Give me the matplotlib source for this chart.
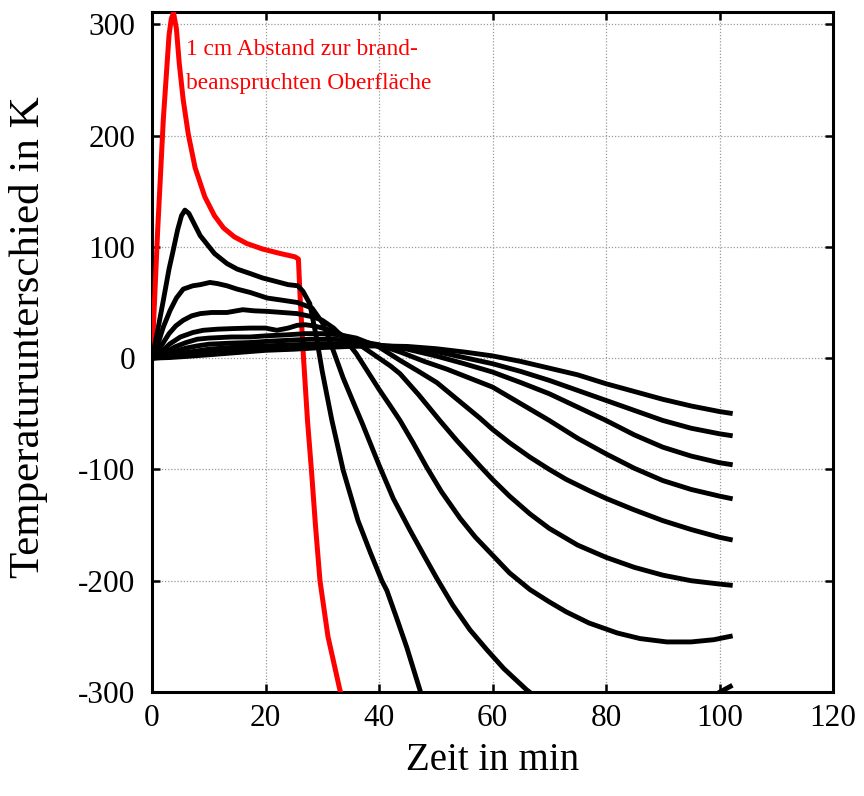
import matplotlib
matplotlib.use("Agg")
import matplotlib.pyplot as plt

plt.rcParams['font.family'] = ['Liberation Serif', 'DejaVu Serif']
plt.rcParams['axes.unicode_minus'] = False

# Red curve: 1 cm from fire-exposed surface
red_x = [0, 1, 2, 3, 3.4, 3.8, 4.3, 4.8, 5.5, 6.4, 7.6, 9.3, 11, 12.6, 14.5, 16.7, 19.5, 22.6,
         25.2, 25.8, 26.1, 26.7, 27.4, 28.1, 28.8, 29.6, 31.0, 33.1, 34.5]
red_y = [0, 115, 215, 290, 305, 310, 296, 265, 232, 201, 171, 145, 128, 117, 109, 103, 98, 94,
         91, 89, 55, 0, -56, -101, -150, -200, -250, -298, -320]

A_x = [0, 1, 2, 3, 3.7, 4.5, 5.2, 5.8, 6.5, 7.5, 8.5, 9.6, 11, 13.2, 15, 17.3, 19.5, 21.4, 24,
       25.7, 26.6, 27.8, 29.0, 30.0, 31.7, 33.7, 36.3, 38.5, 40.5, 41.4, 43.0, 44.9, 47.2, 48.5]
A_y = [0, 25, 52, 80, 96, 115, 128, 133, 130, 120, 110, 103, 94, 85, 80, 76, 72, 69.5, 66,
       65, 60, 49, 18, -12, -56, -101, -146, -175, -200, -209, -232, -260, -298, -320]

B_x = [0, 1, 2, 3.2, 4.3, 5.5, 7.2, 8.5, 10.2, 11.5, 13.2, 15, 17.3, 20.3, 23, 25.6, 28.2, 30,
       31, 32, 33.7, 35.5, 37, 40, 42.5, 45.5, 48, 50.2, 53, 56, 59, 62, 66, 70, 75, 80, 85,
       90, 95, 99, 101.9]
B_y = [0, 12, 28, 43, 54, 62, 65, 66, 68, 67, 65, 62, 59, 54, 52, 50, 45, 32,
       20, 6, -18, -40, -58, -96, -126, -155, -178, -198, -222, -244, -262, -279, -298, -314,
       -326, -331, -330, -323, -313, -303, -295]

C_x = [0, 1.5, 3, 4.2, 5.5, 7, 8.5, 10.5, 13.2, 16, 18, 20.3, 23, 25.6, 28.4, 30, 32, 34, 36,
       38, 40, 42, 43.7, 46, 48.4, 51, 54.3, 57, 60, 63, 66.6, 70, 73, 77, 82, 86, 90.7, 95,
       99, 101.9]
C_y = [0, 10, 22, 29, 34, 38, 40, 41, 41, 43.5, 42.5, 42, 41, 40, 37, 34, 27, 17, 4,
       -12, -28, -43, -56, -76, -98, -120, -144, -161, -177, -193, -208, -219, -228, -238,
       -247, -252, -255, -255, -253, -250]

D_x = [0, 1.5, 3.2, 5, 7.2, 9, 11.5, 14, 17.3, 20, 22, 24, 25.6, 27, 28.5, 30.8, 33, 36, 38,
       40, 42, 43.7, 47, 50.7, 53.7, 57.8, 60, 63, 66.6, 70, 75, 80, 85, 90, 95, 100, 101.9]
D_y = [0, 5, 13, 19, 23, 25, 26, 26.5, 27, 27, 25, 27, 29.5, 30, 29, 26, 22, 14, 7,
       0, -7, -14, -33, -56, -74, -97, -109, -124, -140, -153, -168, -179, -188, -195, -200,
       -203, -204]

E_x = [0, 2, 4, 6, 8, 10, 14, 17.3, 20, 24, 27, 30, 33, 36, 40, 43.7, 47, 50.2, 54, 57.8, 60,
       63, 66.6, 70, 73, 77, 80, 84.8, 90, 95, 100, 101.9]
E_y = [0, 4, 10, 14, 17, 18, 19, 19, 20, 21, 22, 22, 21, 18, 10, -2, -12, -22, -38, -54, -64,
       -76, -89, -100, -109, -119, -126, -136, -146, -154, -161, -163]

F_x = [0, 2, 4, 6, 8, 10, 14, 17.3, 20, 24, 28, 32, 36, 40, 44, 48, 52, 56, 60, 65, 70, 75,
       80, 85, 90, 95, 100, 101.9]
F_y = [0, 2, 6, 9, 11, 12.5, 13.5, 14, 15, 16, 17, 17, 15.5, 12, 5, -3, -10, -18, -26, -41,
       -56, -72, -86, -99, -110, -118, -124, -126]

GHI_x = [0, 3, 6, 10, 15, 20, 25, 30, 35, 40, 45, 50, 55, 60, 65, 70, 75, 80, 85, 90, 95,
         100, 101.9]
G_y = [0, 2, 5, 8, 10, 11, 12, 13, 13, 11.5, 8, 2, -5, -12.5, -22, -32, -44, -56, -69, -80,
       -88, -94, -95.5]
H_y = [0, 1, 3, 5.5, 7.5, 9, 10, 11, 12, 11.5, 9.5, 6, 0.5, -5, -12, -20, -29, -38, -47, -56,
       -63, -68, -69.5]
I_y = [0, 0.5, 1.5, 3, 5, 7, 8, 9.5, 10.5, 11, 10.5, 8.5, 5.5, 2, -3, -9, -15, -23, -30, -37,
       -43, -48, -49.5]

black_series = [(A_x, A_y), (B_x, B_y), (C_x, C_y), (D_x, D_y), (E_x, E_y), (F_x, F_y),
                (GHI_x, G_y), (GHI_x, H_y), (GHI_x, I_y)]

x_ticks = [0, 20, 40, 60, 80, 100, 120]
y_ticks = [-300, -200, -100, 0, 100, 200, 300]
annot_lines = ["1 cm Abstand zur brand-", "beanspruchten Oberfläche"]

fig = plt.figure(figsize=(8.64, 7.96), dpi=100)
ax = fig.add_axes([152/864, 1 - 692/796, (833 - 152)/864, (692 - 12)/796])

ax.plot(red_x, red_y, color='#ff0000', lw=3.6, solid_joinstyle='round', zorder=3)
for xs, ys in black_series:
    ax.plot(xs, ys, color='black', lw=3.5, solid_joinstyle='round', zorder=4)

ax.set_xlim(0, 120)
ax.set_ylim(-300, 311)
ax.set_xticks(x_ticks)
ax.set_yticks(y_ticks)
ax.grid(True, color='#9a9a9a', linestyle=(0, (1, 1.5)), linewidth=0.9)
ax.tick_params(direction='in', top=True, right=True, length=6, width=1.8,
               labelsize=22.5)
ax.tick_params(axis='y', pad=12)
ax.tick_params(axis='x', pad=9)
for s in ax.spines.values():
    s.set_linewidth(2.2)

ax.set_xlabel('Zeit in min', fontsize=28, labelpad=6)
ax.set_ylabel('Temperaturunterschied in K', fontsize=31)
ax.yaxis.set_label_coords(-0.153, 0.522)

ax.text(6.0, 272, annot_lines[0], color='#ff0000', fontsize=16.8, va='baseline', ha='left')
ax.text(6.0, 242, annot_lines[1], color='#ff0000', fontsize=16.8, va='baseline', ha='left')

fig.savefig('out.png', dpi=100)
